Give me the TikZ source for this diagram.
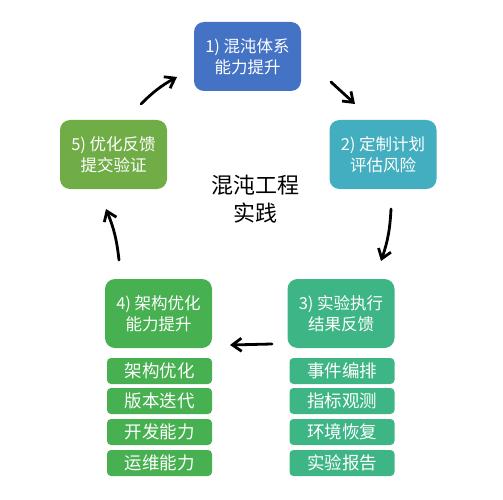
\documentclass[tikz,border=0pt]{standalone}
\usepackage{fontspec}
\usepackage{xcolor}
\usetikzlibrary{arrows.meta,calc,positioning}
\newfontfamily\cjk{Noto Sans CJK SC}
\definecolor{stepblue}{HTML}{4472C4}
\definecolor{stepteal}{HTML}{43AEBF}
\definecolor{stepsea}{HTML}{3EB584}
\definecolor{stepgreen}{HTML}{47B050}
\definecolor{stepolive}{HTML}{70AD47}

\begin{document}
\begin{tikzpicture}[x=1pt,y=-1pt,
 every node/.style={font=\cjk\fontsize{16.5}{21}\selectfont,align=center},
 stage/.style={rounded corners=10pt,minimum height=69pt,minimum width=107pt,inner sep=2pt,text=white},
 item/.style={rounded corners=4pt,minimum height=26pt,minimum width=105pt,inner sep=1pt,text=white,font=\cjk\fontsize{17.5}{20}\selectfont},
 arrow/.style={-{Straight Barb[length=3.2mm,width=4.6mm]},line width=2.8pt,line cap=round}]
\useasboundingbox (0,0) rectangle (503,500);
\node[stage,fill=stepblue] (chaos) at (247.5,56.5) {1) 混沌体系\\能力提升};
\node[stage,fill=stepteal] (plan) at (383,154.5) {2) 定制计划\\评估风险};
\node[stage,fill=stepsea] (run) at (341,313.5) {3) 实验执行\\结果反馈};
\node[stage,fill=stepgreen] (arch) at (158.5,313.5) {4) 架构优化\\能力提升};
\node[stage,fill=stepolive] (fix) at (113.5,154.5) {5) 优化反馈\\提交验证};
\node[font=\cjk\fontsize{22}{28}\selectfont] (title) at (255,199) {混沌工程\\实践};
% items below stages 4 and 3
\node[item,fill=stepgreen] (arch1) at (159.5,371) {架构优化};
\node[item,fill=stepgreen] (arch2) at (159.5,401) {版本迭代};
\node[item,fill=stepgreen] (arch3) at (159.5,432) {开发能力};
\node[item,fill=stepgreen] (arch4) at (159.5,463) {运维能力};
\node[item,fill=stepsea] (run1) at (342,371) {事件编排};
\node[item,fill=stepsea] (run2) at (342,401) {指标观测};
\node[item,fill=stepsea] (run3) at (342,432) {环境恢复};
\node[item,fill=stepsea] (run4) at (342,463) {实验报告};
% arrow ends
\coordinate (fixout) at (141,104);
\coordinate (chaosin) at (177,77);
\coordinate (chaosout) at (331,82);
\coordinate (planin) at (355,104);
\coordinate (planout) at (391,209);
\coordinate (runin) at (381,261);
\coordinate (runout) at (272,344);
\coordinate (archin) at (230,345);
\coordinate (archout) at (119,260);
\coordinate (fixin) at (106,209);
\draw[arrow] (fixout) to[bend left=8] (chaosin);
\draw[arrow] (chaosout) -- (planin);
\draw[arrow] (planout) to[bend left=8] (runin);
\draw[arrow] (runout) -- (archin);
\draw[arrow] (archout) to[bend right=8] (fixin);
\end{tikzpicture}
\end{document}
